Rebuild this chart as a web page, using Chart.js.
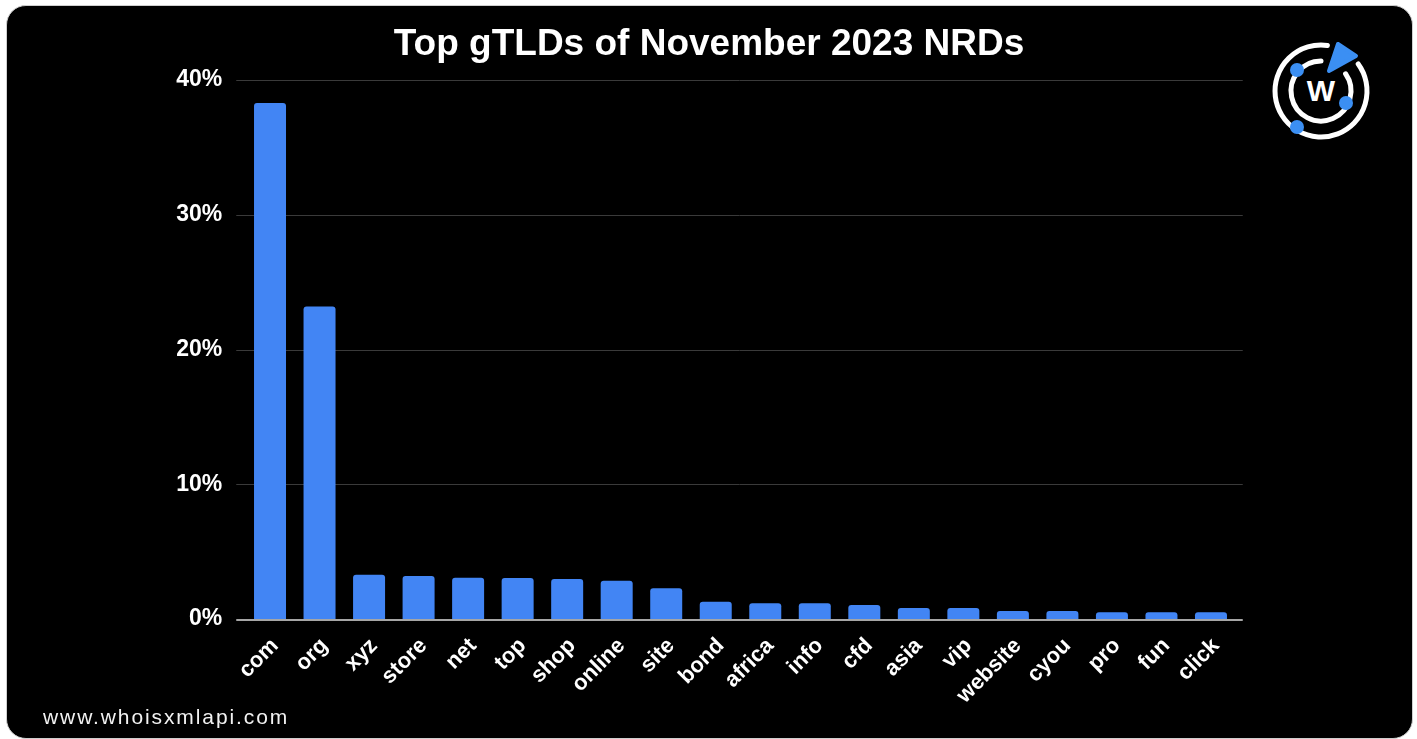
<!DOCTYPE html>
<html>
<head>
<meta charset="utf-8">
<script src="https://cdn.jsdelivr.net/npm/chart.js@4.4.0/dist/chart.umd.min.js"></script>
<style>
    html, body { margin: 0; padding: 0; background: #fff; overflow: hidden; }
    #wrap { position: relative; width: 1417px; height: 739px; }
    #card {
        position: absolute; left: 6px; top: 5px; width: 1405px; height: 732px;
        background: #000; border: 1px solid #cfcfcf; border-radius: 20px;
    }
    #chartBox { position: absolute; left: 0; top: 0; width: 1417px; height: 739px; }
    #site {
        position: absolute; left: 43px; top: 705px;
        font-family: "Liberation Sans", Arial, sans-serif; font-size: 21px;
        letter-spacing: 1.9px; color: #f2f2f2;
    }
    #logo { position: absolute; left: 1260px; top: 30px; }
</style>
</head>
<body>
<div id="wrap">
    <div id="card"></div>
    <svg id="logo" width="120" height="120" viewBox="0 0 120 120">
        <!-- two rings, both open at the top right where the pointer sits -->
        <path id="outerRing" fill="none" stroke="#fff" stroke-width="5" stroke-linecap="round"></path>
        <path id="innerRing" fill="none" stroke="#fff" stroke-width="5" stroke-linecap="round"></path>
        <polygon points="69,41 78,14 96,26" fill="#3b8ff3" stroke="#3b8ff3" stroke-width="4" stroke-linejoin="round"></polygon>
        <circle cx="37" cy="40" r="7" fill="#3b8ff3"></circle>
        <circle cx="86" cy="73" r="7" fill="#3b8ff3"></circle>
        <circle cx="37" cy="97" r="7" fill="#3b8ff3"></circle>
        <text x="61" y="71" text-anchor="middle" font-family="Liberation Sans, Arial, sans-serif" font-weight="bold" font-size="30" fill="#fff">W</text>
    </svg>
    <div id="chartBox"><canvas id="tldChart"></canvas></div>
    <div id="site">www.whoisxmlapi.com</div>
</div>

<script>
// ================= DATA =================
const tlds = ['com', 'org', 'xyz', 'store', 'net', 'top', 'shop', 'online', 'site', 'bond',
              'africa', 'info', 'cfd', 'asia', 'vip', 'website', 'cyou', 'pro', 'fun', 'click'];
const sharePct = [38.3, 23.2, 3.29, 3.19, 3.07, 3.05, 2.97, 2.84, 2.28, 1.28,
                  1.16, 1.16, 1.04, 0.82, 0.82, 0.59, 0.59, 0.50, 0.50, 0.50];
const yTicks = [0, 10, 20, 30, 40];

// ================= LOGO RINGS =================
function arcPath(cx, cy, r, fromDeg, toDeg) {
    const a0 = fromDeg * Math.PI / 180, a1 = toDeg * Math.PI / 180;
    const x0 = cx + r * Math.cos(a0), y0 = cy + r * Math.sin(a0);
    const x1 = cx + r * Math.cos(a1), y1 = cy + r * Math.sin(a1);
    const large = ((toDeg - fromDeg + 360) % 360) > 180 ? 1 : 0;
    return `M ${x0} ${y0} A ${r} ${r} 0 ${large} 1 ${x1} ${y1}`;
}
document.getElementById('outerRing').setAttribute('d', arcPath(61, 61, 46, -36, -82 + 360));
document.getElementById('innerRing').setAttribute('d', arcPath(61, 61, 30, -35, -90 + 360));

// ================= GRID (a bit wider than the plot) =================
const gridLines = {
    id: 'gridLines',
    beforeDatasetsDraw(chart) {
        const { ctx, chartArea, scales: { y } } = chart;
        ctx.save();
        ctx.strokeStyle = '#3a3a3a';
        ctx.lineWidth = 1;
        yTicks.forEach(v => {
            if (v === 0) return;
            const py = Math.round(y.getPixelForValue(v)) + 0.5;
            ctx.beginPath();
            ctx.moveTo(chartArea.left - 9, py);
            ctx.lineTo(chartArea.right + 7, py);
            ctx.stroke();
        });
        ctx.restore();
    },
    afterDatasetsDraw(chart) {
        const { ctx, chartArea, scales: { y } } = chart;
        const py = y.getPixelForValue(0) + 1;
        ctx.save();
        ctx.strokeStyle = '#a6a6a6';
        ctx.lineWidth = 2;
        ctx.beginPath();
        ctx.moveTo(chartArea.left - 9, py);
        ctx.lineTo(chartArea.right + 7, py);
        ctx.stroke();
        ctx.restore();
    }
};

Chart.defaults.font.family = '"Liberation Sans", Arial, sans-serif';
Chart.defaults.color = '#fff';

new Chart(document.getElementById('tldChart'), {
    type: 'bar',
    data: {
        labels: tlds,
        datasets: [{
            data: sharePct,
            backgroundColor: '#4285f4',
            borderRadius: 3,
            barPercentage: 0.646,
            categoryPercentage: 1
        }]
    },
    options: {
        responsive: true,
        maintainAspectRatio: false,
        animation: false,
        layout: { padding: { left: 165.25, right: 164.25, top: 20, bottom: 0 } },
        plugins: {
            legend: { display: false },
            tooltip: { enabled: false },
            title: {
                display: true,
                text: 'Top gTLDs of November 2023 NRDs',
                color: '#fff',
                font: { size: 37, weight: 'bold' },
                padding: { top: 3, bottom: 12.6 }
            }
        },
        scales: {
            x: {
                grid: { display: false },
                border: { display: false },
                ticks: {
                    color: '#fff',
                    font: { size: 22, weight: 'bold' },
                    maxRotation: 45,
                    minRotation: 45,
                    padding: 6,
                    labelOffset: 5,
                    autoSkip: false
                },
                afterFit(scale) { scale.height = 120; }
            },
            y: {
                min: 0,
                max: 40,
                grid: { display: false, drawTicks: false },
                border: { display: false },
                ticks: {
                    stepSize: 10,
                    color: '#fff',
                    font: { size: 23, weight: 'bold' },
                    padding: 23,
                    callback: v => v + '%'
                },
                afterFit(scale) { scale.width = 80; }
            },
            // empty right-hand axis, only balances the title over the card
            yRight: {
                type: 'linear',
                position: 'right',
                grid: { display: false },
                border: { display: false },
                ticks: { display: false },
                afterFit(scale) { scale.width = 17; }
            }
        }
    },
    plugins: [gridLines]
});
</script>
</body>
</html>
